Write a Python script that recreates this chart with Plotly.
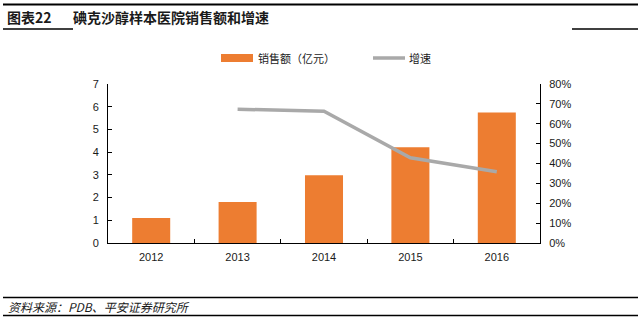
import plotly.graph_objects as go

years = ["2012", "2013", "2014", "2015", "2016"]
sales = [1.10, 1.80, 2.98, 4.21, 5.75]          # 销售额（亿元）
growth = [None, 0.673, 0.663, 0.429, 0.359]      # 增速
left_ticks = [0, 1, 2, 3, 4, 5, 6, 7]
right_ticks = [0, 0.1, 0.2, 0.3, 0.4, 0.5, 0.6, 0.7, 0.8]

W, H = 642, 323
L, R, T, B = 108, 540, 84, 243

def px(x):
    return (x - L) / (R - L)

def py(y):
    return (B - y) / (B - T)

ORANGE = "#ED7D31"
GRAY = "#A9A9A9"
TXT = "#1a1a1a"

fig = go.Figure()
fig.add_trace(go.Bar(x=years, y=sales, name="销售额（亿元）", marker=dict(color=ORANGE, line=dict(width=0)),
                     yaxis="y", showlegend=False))
fig.add_trace(go.Scatter(x=years, y=growth, name="增速", mode="lines", line=dict(color=GRAY, width=3.5),
                         yaxis="y2", showlegend=False, connectgaps=False))

tickfont = dict(family="Liberation Sans, Arial, sans-serif", size=11, color=TXT)

fig.update_layout(
    width=W, height=H,
    margin=dict(l=L, r=W - R, t=T, b=H - B),
    paper_bgcolor="white", plot_bgcolor="white",
    bargap=0.56,
    xaxis=dict(type="category", range=[-0.5, 4.5], showline=True, linecolor="black", linewidth=1,
               ticks="inside", ticklen=4, tickcolor="black", tickson="boundaries",
               tickfont=tickfont, showgrid=False, zeroline=False, ticklabelstandoff=4),
    yaxis=dict(range=[0, 7], tickvals=left_ticks, showline=True, linecolor="black", linewidth=1,
               ticks="inside", ticklen=4, tickcolor="black", tickfont=tickfont, showgrid=False,
               zeroline=False, ticklabelstandoff=6),
    yaxis2=dict(range=[0, 0.8], tickvals=right_ticks, tickformat=".0%", overlaying="y", side="right",
                showline=True, linecolor="black", linewidth=1, ticks="inside", ticklen=4,
                tickcolor="black", tickfont=tickfont, showgrid=False, zeroline=False,
                ticklabelstandoff=6),
)

shapes = []
# header / footer rules
shapes.append(dict(type="line", xref="paper", yref="paper", x0=px(3), x1=px(638), y0=py(4.5), y1=py(4.5),
                   line=dict(color="black", width=2)))
shapes.append(dict(type="line", xref="paper", yref="paper", x0=px(3), x1=px(73), y0=py(29), y1=py(29),
                   line=dict(color="black", width=1.5)))
shapes.append(dict(type="line", xref="paper", yref="paper", x0=px(572), x1=px(638), y0=py(29), y1=py(29),
                   line=dict(color="black", width=1.5)))
shapes.append(dict(type="line", xref="paper", yref="paper", x0=px(3), x1=px(638), y0=py(297.5), y1=py(297.5),
                   line=dict(color="black", width=1.5)))
shapes.append(dict(type="line", xref="paper", yref="paper", x0=px(3), x1=px(638), y0=py(315.5), y1=py(315.5),
                   line=dict(color="black", width=1.5)))
# legend symbols
shapes.append(dict(type="rect", xref="paper", yref="paper", x0=px(221), x1=px(253), y0=py(62), y1=py(54),
                   fillcolor=ORANGE, line=dict(width=0)))
shapes.append(dict(type="line", xref="paper", yref="paper", x0=px(373), x1=px(405), y0=py(58), y1=py(58),
                   line=dict(color=GRAY, width=3.5)))
fig.update_layout(shapes=shapes)

cjk = "Noto Sans CJK SC, sans-serif"
ann = [
    dict(text="<b>图表22</b>", x=px(5), y=py(17), xanchor="left", yanchor="middle",
         font=dict(family=cjk, size=14, color=TXT)),
    dict(text="<b>碘克沙醇样本医院销售额和增速</b>", x=px(71), y=py(17), xanchor="left", yanchor="middle",
         font=dict(family=cjk, size=14, color=TXT)),
    dict(text="销售额（亿元）", x=px(256), y=py(58), xanchor="left", yanchor="middle",
         font=dict(family=cjk, size=11, color=TXT)),
    dict(text="增速", x=px(407), y=py(58), xanchor="left", yanchor="middle",
         font=dict(family=cjk, size=11, color=TXT)),
    dict(text="<i>资料来源：PDB、平安证券研究所</i>", x=px(6), y=py(306.5), xanchor="left", yanchor="middle",
         font=dict(family=cjk, size=12, color=TXT)),
]
for a in ann:
    a.update(xref="paper", yref="paper", showarrow=False)
fig.update_layout(annotations=ann)

fig.write_html("out.html")
